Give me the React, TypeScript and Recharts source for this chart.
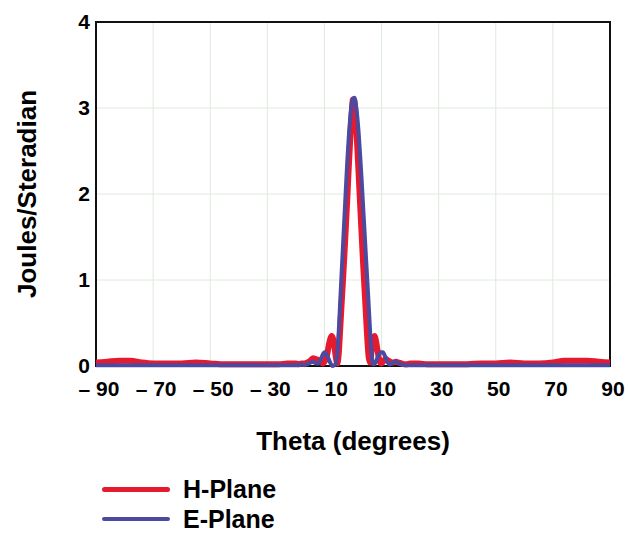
import {
  CartesianGrid,
  Label,
  Line,
  LineChart,
  ReferenceArea,
  XAxis,
  YAxis,
} from 'recharts'

// sample angles, denser around the main lobe
const theta = [
  -90, -86, -82, -78, -74, -70, -65, -60, -55, -50, -45, -40, -35, -30, -26, -23,
  -20, -19, -18, -17, -16, -15, -14, -13,
  -12, -11.5, -11, -10.5, -10, -9.5, -9, -8.5, -8, -7.5, -7, -6.5, -6, -5.5, -5, -4.5,
  -4, -3.5, -3, -2.5, -2, -1.5, -1, -0.5, 0, 0.5, 1, 1.5, 2, 2.5, 3, 3.5,
  4, 4.5, 5, 5.5, 6, 6.5, 7, 7.5, 8, 8.5, 9, 9.5, 10, 10.5, 11, 11.5, 12,
  13, 14, 15, 16, 17, 18, 19, 20,
  23, 26, 30, 35, 40, 45, 50, 55, 60, 65, 70, 74, 78, 82, 86, 90,
]

const hPlane = [
  0.04, 0.05, 0.06, 0.06, 0.04, 0.03, 0.03, 0.03, 0.04, 0.03, 0.02, 0.02, 0.02, 0.02, 0.02, 0.03,
  0.03, 0.02, 0.03, 0.03, 0.04, 0.06, 0.09, 0.08,
  0.07, 0.05, 0.04, 0.03, 0.05, 0.08, 0.14, 0.24, 0.31, 0.35, 0.32, 0.22, 0.1, 0.03, 0.14, 0.42,
  0.72, 1.0, 1.3, 1.62, 1.95, 2.3, 2.62, 2.92, 3.1, 3.08, 2.85, 2.55, 2.22, 1.88, 1.55, 1.22,
  0.92, 0.62, 0.32, 0.1, 0.04, 0.18, 0.3, 0.35, 0.3, 0.2, 0.1, 0.04, 0.03, 0.05, 0.07, 0.08, 0.07,
  0.05, 0.04, 0.05, 0.04, 0.03, 0.02, 0.02, 0.03,
  0.03, 0.02, 0.02, 0.02, 0.02, 0.03, 0.03, 0.04, 0.03, 0.03, 0.04, 0.06, 0.06, 0.06, 0.05, 0.04,
]

const ePlane = [
  0.01, 0.01, 0.01, 0.01, 0.01, 0.01, 0.01, 0.01, 0.01, 0.01, 0.01, 0.01, 0.01, 0.01, 0.01, 0.01,
  0.01, 0.01, 0.02, 0.01, 0.02, 0.04, 0.05, 0.03,
  0.03, 0.06, 0.1, 0.14, 0.16, 0.15, 0.12, 0.08, 0.04, 0.01, 0.0, 0.01, 0.03, 0.15, 0.4, 0.73,
  1.07, 1.4, 1.73, 2.06, 2.38, 2.65, 2.87, 3.03, 3.11, 3.12, 3.04, 2.9, 2.7, 2.45, 2.18, 1.88,
  1.59, 1.29, 1.0, 0.7, 0.4, 0.15, 0.02, 0.02, 0.05, 0.09, 0.13, 0.15, 0.16, 0.16, 0.13, 0.09, 0.05,
  0.02, 0.04, 0.05, 0.03, 0.02, 0.01, 0.01, 0.01,
  0.01, 0.01, 0.01, 0.01, 0.01, 0.01, 0.01, 0.01, 0.01, 0.01, 0.01, 0.01, 0.01, 0.01, 0.01, 0.01,
]

const xTicks = [-90, -70, -50, -30, -10, 10, 30, 50, 70, 90]
const yTicks = [0, 1, 2, 3, 4]

const series = [
  { key: 'h', name: 'H-Plane', color: '#e51a2f', width: 6, legendWidth: 5 },
  { key: 'e', name: 'E-Plane', color: '#4b4aa0', width: 4, legendWidth: 3.5 },
]

const FONT = '"Liberation Sans", Arial, sans-serif'
const tickStyle = { fill: '#000', fontSize: 21, fontWeight: 700, fontFamily: FONT }

const fmtTheta = (v: number) => (v < 0 ? `\u2013 ${-v}` : `${v}`)

export default function App() {
  const data = theta.map((t, i) => ({ theta: t, h: hPlane[i], e: ePlane[i] }))

  return (
    <div style={{ position: 'absolute', left: 0, top: 0, width: 630, height: 534, background: '#fff', fontFamily: FONT, overflow: 'hidden' }}>
      <LineChart width={630} height={534} data={data} margin={{ top: 22, right: 20, bottom: 0, left: 0 }}>
        <CartesianGrid stroke="#dfeadf" strokeWidth={1} />
        <XAxis
          dataKey="theta"
          type="number"
          domain={[-90, 90]}
          ticks={xTicks}
          tickFormatter={fmtTheta}
          axisLine={false}
          tickLine={false}
          tickSize={0}
          tickMargin={15}
          height={168}
          tick={{ ...tickStyle, dx: 3 }}
          interval={0}
        >
          <Label
            content={({ viewBox }: any) => (
              <text
                x={viewBox.x + viewBox.width / 2}
                y={viewBox.y + 75}
                textAnchor="middle"
                dominantBaseline="central"
                style={{ fontSize: 26, fontWeight: 700, fontFamily: FONT, fill: '#000' }}
              >
                Theta (degrees)
              </text>
            )}
          />
        </XAxis>
        <YAxis
          type="number"
          domain={[0, 4]}
          ticks={yTicks}
          axisLine={false}
          tickLine={false}
          tickSize={0}
          tickMargin={6}
          width={96}
          tick={tickStyle}
          interval={0}
        >
          <Label
            content={({ viewBox }: any) => {
              const cx = 27
              const cy = viewBox.y + viewBox.height / 2
              return (
                <text
                  x={cx}
                  y={cy}
                  transform={`rotate(-90, ${cx}, ${cy})`}
                  textAnchor="middle"
                  dominantBaseline="central"
                  style={{ fontSize: 26, fontWeight: 700, fontFamily: FONT, fill: '#000' }}
                >
                  Joules/Steradian
                </text>
              )
            }}
          />
        </YAxis>
        <ReferenceArea x1={-90} x2={90} y1={0} y2={4} fill="none" fillOpacity={0} stroke="#111" strokeWidth={2} />
        {series.map((s) => (
          <Line
            key={s.key}
            dataKey={s.key}
            name={s.name}
            type="monotone"
            stroke={s.color}
            strokeWidth={s.width}
            dot={false}
            strokeLinejoin="round"
            isAnimationActive={false}
          />
        ))}
      </LineChart>

      {/* legend */}
      {series.map((s, i) => (
        <div
          key={s.key}
          style={{
            position: 'absolute',
            left: 102,
            top: 478 + i * 30,
            height: 22,
            display: 'flex',
            alignItems: 'center',
          }}
        >
          <div
            style={{
              width: 68,
              height: s.legendWidth,
              background: s.color,
              borderRadius: 3,
              marginRight: 13,
            }}
          />
          <span style={{ fontSize: 25, fontWeight: 700, color: '#000', lineHeight: '22px' }}>{s.name}</span>
        </div>
      ))}
    </div>
  )
}
